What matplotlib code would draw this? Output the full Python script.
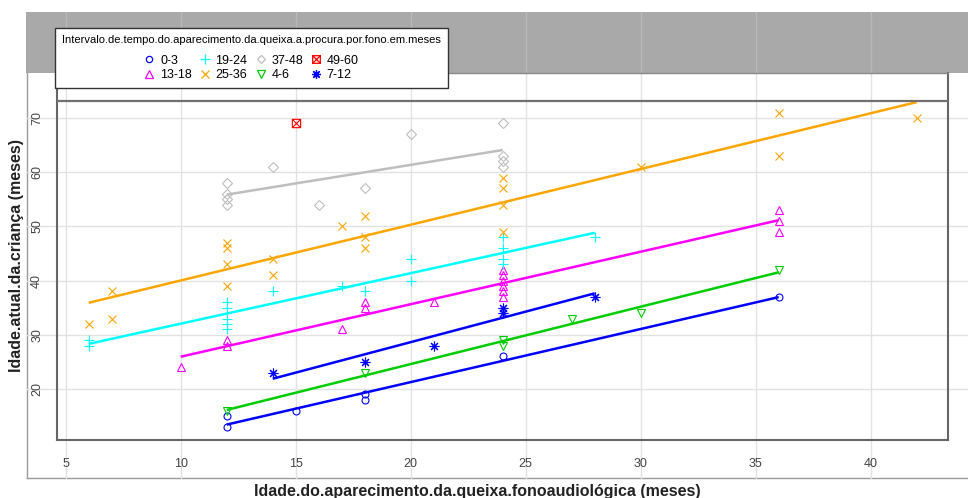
import numpy as np
import matplotlib
matplotlib.use("Agg")
import matplotlib.pyplot as plt
from matplotlib.lines import Line2D
from matplotlib.patches import Rectangle
from matplotlib.path import Path

plt.rcParams['font.family'] = ['Liberation Sans', 'DejaVu Sans']

# ---------------- data ----------------
levels = ["0-3", "13-18", "19-24", "25-36", "37-48", "4-6", "49-60", "7-12"]

x_0_3 = [12, 12, 15, 18, 18, 24, 36]
y_0_3 = [13, 15, 16, 18, 19, 26, 37]

x_13_18 = [10, 12, 12, 17, 18, 18, 21, 24, 24, 24, 24, 24, 24, 36, 36, 36]
y_13_18 = [24, 28, 29, 31, 35, 36, 36, 37, 38, 39, 40, 41, 42, 49, 51, 53]

x_19_24 = [6, 6, 12, 12, 12, 12, 12, 14, 17, 18, 20, 20, 24, 24, 24, 24, 28]
y_19_24 = [28, 29, 31, 32, 33, 35, 36, 38, 39, 38, 40, 44, 43, 44, 46, 48, 48]

x_25_36 = [6, 7, 7, 12, 12, 12, 12, 14, 14, 17, 18, 18, 18, 24, 24, 24, 24, 30, 36, 36, 42]
y_25_36 = [32, 33, 38, 39, 43, 46, 47, 41, 44, 50, 46, 48, 52, 49, 54, 57, 59, 61, 63, 71, 70]

x_37_48 = [12, 12, 12, 12, 14, 16, 18, 20, 24, 24, 24, 24]
y_37_48 = [58, 56, 55, 54, 61, 54, 57, 67, 69, 63, 62, 61]

x_4_6 = [12, 18, 24, 24, 27, 30, 36]
y_4_6 = [16, 23, 28, 29, 33, 34, 42]

x_49_60 = [15]
y_49_60 = [69]

x_7_12 = [14, 18, 21, 24, 24, 28]
y_7_12 = [23, 25, 28, 34, 35, 37]

xs_all = [x_0_3, x_13_18, x_19_24, x_25_36, x_37_48, x_4_6, x_49_60, x_7_12]
ys_all = [y_0_3, y_13_18, y_19_24, y_25_36, y_37_48, y_4_6, y_49_60, y_7_12]

x_ticks = [5, 10, 15, 20, 25, 30, 35, 40]
y_ticks = [20, 30, 40, 50, 60, 70]

legend_title = "Intervalo.de.tempo.do.aparecimento.da.queixa.a.procura.por.fono.em.meses"
x_label = "Idade.do.aparecimento.da.queixa.fonoaudiológica (meses)"
y_label = "Idade.atual.da.criança (meses)"

# ---------------- styles ----------------
colors = ["#0000ff", "#ff00ff", "#00ffff", "#ffa500", "#bebebe", "#00cd00", "#ff0000", "#0000ff"]
boxx = Path([(-1, -1), (1, -1), (1, 1), (-1, 1), (-1, -1), (-1, -1), (1, 1), (-1, 1), (1, -1)],
            [Path.MOVETO, Path.LINETO, Path.LINETO, Path.LINETO, Path.CLOSEPOLY,
             Path.MOVETO, Path.LINETO, Path.MOVETO, Path.LINETO])
markers = ["o", "^", "+", "x", "D", "v", boxx, (8, 2, 0)]
msizes = [5, 6, 7, 6, 5, 6, 6, 7]

W, H = 968, 498
fig = plt.figure(figsize=(W / 100, H / 100), dpi=100)

# box in pixels: left 57, right 948, top 73, bottom 440
L, R, T, B = 57, 948, 73, 440
ax = fig.add_axes([L / W, (H - B) / H, (R - L) / W, (B - T) / H])

# gray band and outer frame
fig.add_artist(Rectangle((26 / W, (H - T) / H), (W - 26) / W, (T - 12) / H,
                         transform=fig.transFigure, facecolor="#a9a9a9",
                         edgecolor="none", zorder=-1))
fig.add_artist(Line2D([27 / W, 27 / W], [(H - 478) / H, (H - T) / H],
                      transform=fig.transFigure, color="#9a9a9a", lw=1, zorder=-1))
fig.add_artist(Line2D([27 / W, 1], [(H - 478) / H, (H - 478) / H],
                      transform=fig.transFigure, color="#9a9a9a", lw=1, zorder=-1))

# grid lines (extending beyond the box like the reference)
ybot = (B - 478) / (B - T)
yband = (B - 12) / (B - T)
xl = (27 - L) / (R - L)
xr = (W - L) / (R - L)
for t in x_ticks:
    ax.axvline(t, ymin=ybot, ymax=1.0, color="#e2e2e2", lw=1, clip_on=False, zorder=0.5)
    ax.axvline(t, ymin=1.0, ymax=yband, color="#b9b9b9", lw=1, clip_on=False, zorder=0.5)
for t in y_ticks:
    ax.axhline(t, xmin=xl, xmax=xr, color="#e2e2e2", lw=1, clip_on=False, zorder=0.5)

handles = []
for xs, ys, c, m, ms in zip(xs_all, ys_all, colors, markers, msizes):
    ax.plot(xs, ys, linestyle="none", marker=m, mfc="none", mec=c, ms=ms, mew=0.8, zorder=3)
    if len(set(xs)) > 1:
        coef = np.polyfit(xs, ys, 1)
        xx = np.array([min(xs), max(xs)])
        ax.plot(xx, np.polyval(coef, xx), color=c, lw=1.8, zorder=4, solid_capstyle="butt")
    handles.append(Line2D([], [], linestyle="none", marker=m, mfc="none", mec=c,
                          ms=ms - 0.5, mew=0.9))

ax.set_xticks(x_ticks)
ax.set_yticks(y_ticks)
ax.set_xticklabels([str(t) for t in x_ticks])
ax.set_yticklabels([str(t) for t in y_ticks], rotation=90, va="center")
ax.tick_params(length=0, labelsize=9, colors="#444444")
ax.tick_params(axis="y", pad=10)
ax.tick_params(axis="x", pad=13)

ax.set_xlim(4.622, 43.36)
ax.set_ylim(10.59, 78.30)

for s in ["left", "bottom", "right"]:
    ax.spines[s].set_color("#666666")
    ax.spines[s].set_linewidth(1.5)
ax.spines["top"].set_color("#8a8a8a")
ax.spines["top"].set_linewidth(1.0)
topline = (B - 101) / (B - T)
ax.plot([0, 1], [topline, topline], transform=ax.transAxes, color="#707070", lw=1.6, zorder=5)

ax.set_xlabel(x_label, fontsize=11.5, fontweight="bold", color="#222222", va="center")
ax.xaxis.set_label_coords((477 - L) / (R - L), (B - 491) / (B - T))
ax.set_ylabel(y_label, fontsize=11.5, fontweight="bold", color="#222222", va="center")
ax.yaxis.set_label_coords((17 - L) / (R - L), (B - 255) / (B - T))

leg = ax.legend(handles, levels, ncol=4, title=legend_title, loc="upper left",
                bbox_to_anchor=(55 / W, 1 - 28 / H), bbox_transform=fig.transFigure,
                fontsize=9, title_fontsize=8, frameon=True, fancybox=False,
                edgecolor="#333333", framealpha=1, borderpad=0.55, handlelength=0.9,
                handletextpad=0.4, columnspacing=0.6, labelspacing=0.2, borderaxespad=0)
leg._legend_box.sep = 7
leg.get_frame().set_linewidth(1.0)
leg.set_zorder(10)

fig.savefig("out.png", dpi=100)
